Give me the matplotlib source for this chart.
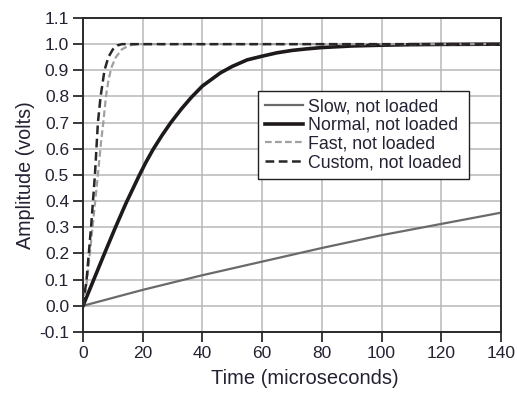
import numpy as np
import matplotlib
matplotlib.use('Agg')
import matplotlib.pyplot as plt

plt.rcParams['font.family'] = ['Liberation Sans', 'DejaVu Sans']

# values
slow_t = [0, 20, 40, 60, 80, 100, 120, 140]
slow_v = [0, 0.061, 0.117, 0.169, 0.221, 0.270, 0.313, 0.356]

normal_t = [0, 3.6, 7.2, 10.8, 14.4, 18.7, 21, 23.6, 26.5, 29.4, 33, 36.4,
            40, 46, 50, 55, 60, 65, 70, 75, 80, 85, 90, 100, 110, 120, 140]
normal_v = [0, 0.10, 0.20, 0.298, 0.392, 0.495, 0.547, 0.60, 0.652, 0.70,
            0.753, 0.798, 0.84, 0.89, 0.915, 0.94, 0.954, 0.967, 0.976,
            0.982, 0.987, 0.99, 0.993, 0.996, 0.998, 0.999, 1.0]

fast_t = [0, 1.4, 3.2, 5.0, 6.0, 6.8, 7.7, 8.5, 9.5, 11, 13, 15.5, 18, 140]
fast_v = [0, 0.10, 0.30, 0.50, 0.62, 0.70, 0.80, 0.86, 0.91, 0.95, 0.98,
          0.995, 1.0, 1.0]

custom_t = [0, 1.2, 2.7, 4.0, 5.0, 5.9, 7.2, 8.5, 10, 11.5, 13, 140]
custom_v = [0, 0.10, 0.30, 0.50, 0.70, 0.80, 0.90, 0.95, 0.98, 0.995, 1.0,
            1.0]

x_ticks = [0, 20, 40, 60, 80, 100, 120, 140]
y_ticks = [-0.1, 0.0, 0.1, 0.2, 0.3, 0.4, 0.5, 0.6, 0.7, 0.8, 0.9, 1.0, 1.1]


def main():
    fig = plt.figure(figsize=(5.17, 3.96), dpi=100)
    ax = fig.add_axes([0.1605, 0.1616, 0.8085, 0.793])

    ax.plot(slow_t, slow_v, color='#6a6a6a', lw=1.6, label='Slow, not loaded')
    ax.plot(normal_t, normal_v, color='#1e1a1c', lw=2.6, label='Normal, not loaded')
    ax.plot(fast_t, fast_v, color='#a0a0a0', lw=1.6, ls=(0, (3, 1.5)),
            label='Fast, not loaded')
    ax.plot(custom_t, custom_v, color='#2a2628', lw=1.8, ls=(0, (3.5, 1.8)),
            label='Custom, not loaded')

    ax.set_xlim(0, 140)
    ax.set_ylim(-0.1, 1.1)
    ax.set_xticks(x_ticks)
    ax.set_yticks(y_ticks)
    ax.set_yticklabels(['%.1f' % v for v in y_ticks])
    ax.grid(True, color='#b8b8b8', lw=1.1)
    ax.set_axisbelow(True)

    for s in ax.spines.values():
        s.set_color('#2a2a2a')
        s.set_linewidth(1.4)
    ax.tick_params(direction='out', length=7, width=1.3, color='#2a2a2a',
                   labelsize=12.5, labelcolor='#222233', pad=3)

    ax.set_xlabel('Time (microseconds)', fontsize=14.5, color='#222233')
    ax.xaxis.set_label_coords(0.531, -0.118)
    ax.set_ylabel('Amplitude (volts)', fontsize=14.2, color='#222233', labelpad=3)

    leg = ax.legend(loc='upper left', bbox_to_anchor=(0.419, 0.7675),
                    borderaxespad=0, fontsize=12.8, fancybox=False,
                    handlelength=2.1, handletextpad=0.3, labelspacing=0.1,
                    borderpad=0.4, framealpha=1)
    leg.get_frame().set_edgecolor('#222222')
    leg.get_frame().set_linewidth(1.0)
    for t in leg.get_texts():
        t.set_color('#222233')

    fig.savefig('out.png', dpi=100)


if __name__ == '__main__':
    main()
